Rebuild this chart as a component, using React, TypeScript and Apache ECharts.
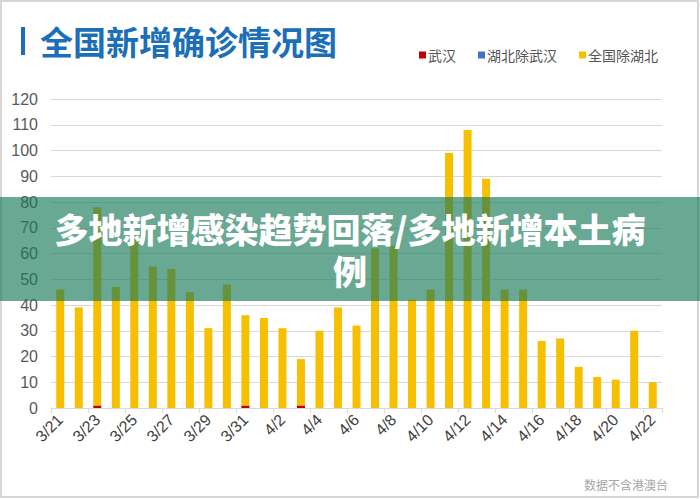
import React, { useEffect, useRef } from "react";
import * as echarts from "echarts";

// Reporting dates
const dates = [
  "3/21", "3/22", "3/23", "3/24", "3/25", "3/26", "3/27", "3/28", "3/29", "3/30", "3/31",
  "4/1", "4/2", "4/3", "4/4", "4/5", "4/6", "4/7", "4/8", "4/9", "4/10", "4/11",
  "4/12", "4/13", "4/14", "4/15", "4/16", "4/17", "4/18", "4/19", "4/20", "4/21", "4/22",
];

// New confirmed cases by region
const wuhan = [
  0, 0, 1, 0, 0, 0, 0, 0, 0, 0, 1,
  0, 0, 1, 0, 0, 0, 0, 0, 0, 0, 0,
  0, 0, 0, 0, 0, 0, 0, 0, 0, 0, 0,
];
const hubeiExWuhan = [
  0, 0, 0, 0, 0, 0, 0, 0, 0, 0, 0,
  0, 0, 0, 0, 0, 0, 0, 0, 0, 0, 0,
  0, 0, 0, 0, 0, 0, 0, 0, 0, 0, 0,
];
const outsideHubei = [
  46, 39, 77, 47, 67, 55, 54, 45, 31, 48, 35,
  35, 31, 18, 30, 39, 32, 62, 63, 42, 46, 99,
  108, 89, 46, 46, 26, 27, 16, 12, 11, 30, 10,
];

const seriesNames = ["武汉", "湖北除武汉", "全国除湖北"];
const seriesColors = ["#c00000", "#4472c4", "#f6bf00"];

const titleText = "全国新增确诊情况图";
const bannerLines = ["多地新增感染趋势回落/多地新增本土病", "例"];
const noteText = "数据不含港澳台";

const BLUE = "#1b6fb6";
const CJK = '"Noto Sans CJK SC", "Noto Sans", sans-serif';
const LATIN = '"Liberation Sans", Arial, sans-serif';

export default function App() {
  const ref = useRef<HTMLDivElement>(null);

  useEffect(() => {
    if (!ref.current) return;
    const chart = echarts.init(ref.current, undefined, { renderer: "svg" });
    const values = [wuhan, hubeiExWuhan, outsideHubei];

    chart.setOption({
      animation: false,
      backgroundColor: "#ffffff",
      grid: { left: 51, right: 38, top: 99, bottom: 91 },
      legend: {
        data: seriesNames,
        left: 414,
        top: 43,
        icon: "rect",
        itemWidth: 7,
        itemHeight: 7,
        itemGap: 22,
        textStyle: { fontFamily: CJK, fontSize: 14, color: "#555555", padding: [0, 0, 0, -3] },
      },
      xAxis: {
        type: "category",
        data: dates,
        axisLine: { lineStyle: { color: "#d9d9d9", width: 1 } },
        axisTick: { show: true, interval: 1, length: 5, lineStyle: { color: "#d9d9d9" } },
        axisLabel: {
          interval: 1,
          rotate: 45,
          margin: 9,
          fontFamily: LATIN,
          fontSize: 16,
          color: "#404040",
        },
      },
      yAxis: {
        type: "value",
        min: 0,
        max: 120,
        interval: 10,
        axisLine: { show: false },
        axisTick: { show: false },
        axisLabel: { fontFamily: LATIN, fontSize: 16, color: "#595959", margin: 13 },
        splitLine: { lineStyle: { color: "#d9d9d9", width: 1 } },
      },
      series: seriesNames.map((name, i) => ({
        name,
        type: "bar",
        stack: "total",
        barWidth: 8,
        data: values[i],
        itemStyle: { color: seriesColors[i] },
      })),
      graphic: [
        {
          type: "rect",
          shape: { x: 1, y: 1, width: 697, height: 496 },
          style: { fill: "none", stroke: "#d6d6d6", lineWidth: 2 },
          silent: true,
        },
        {
          type: "rect",
          shape: { x: 21, y: 27, width: 4, height: 28 },
          style: { fill: BLUE },
        },
        {
          type: "text",
          x: 40,
          y: 41,
          style: {
            text: titleText,
            fill: BLUE,
            font: `bold 33px ${CJK}`,
            verticalAlign: "middle",
          },
        },
        {
          type: "text",
          x: 668,
          y: 484,
          style: {
            text: noteText,
            fill: "#a6a6a6",
            font: `12px ${CJK}`,
            align: "right",
            verticalAlign: "middle",
          },
        },
        {
          type: "rect",
          z: 100,
          shape: { x: 0, y: 197, width: 700, height: 104 },
          style: { fill: "rgba(25,121,89,0.65)" },
        },
        {
          type: "text",
          z: 101,
          x: 350,
          y: 249,
          style: {
            text: bannerLines.join("\n"),
            fill: "#ffffff",
            font: `900 34px ${CJK}`,
            lineHeight: 42,
            align: "center",
            verticalAlign: "middle",
          },
        },
      ],
    });

    return () => chart.dispose();
  }, []);

  return (
    <div
      ref={ref}
      style={{ position: "absolute", left: 0, top: 0, width: 700, height: 499 }}
    />
  );
}
